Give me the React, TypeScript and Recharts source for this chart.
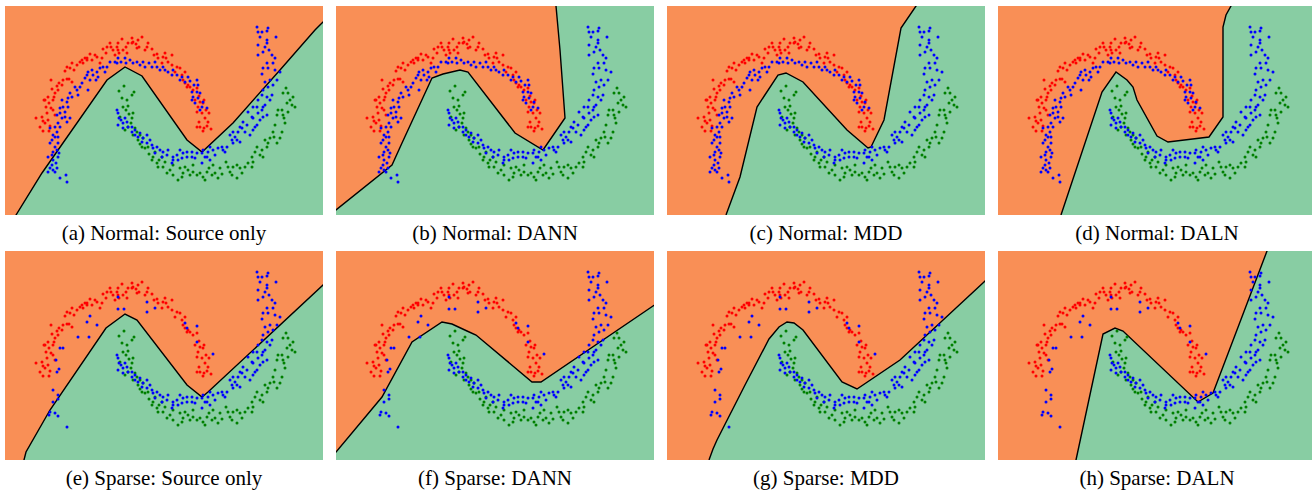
import React from 'react';
import { ComposedChart, Area, Scatter, XAxis, YAxis } from 'recharts';

type P = [number, number];

// Source domain, class 0 (upper moon)
const RED: P[] = [
  [31,97],[37,98],[38,94],[40,92],[38,84],[44,84],[45,89],[41,108],[46,107],[44,112],
  [48,115],[43,118],[50,122],[47,126],[53,125],[54,132],[46,135],[58,135],[64,136],[67,133],
  [60,144],[65,147],[67,152],[69,145],[75,153],[77,155],[80,157],[85,161],[90,160],[87,155],
  [95,152],[97,157],[98,166],[102,168],[105,172],[108,165],[110,160],[112,168],[114,162],[117,176],
  [121,168],[122,162],[118,165],[123,172],[128,173],[131,171],[133,175],[137,178],[134,168],[140,165],
  [143,172],[147,166],[149,160],[152,161],[157,152],[158,158],[160,162],[163,153],[167,160],[167,150],
  [170,143],[175,147],[177,140],[178,135],[180,132],[183,130],[185,128],[188,125],[190,115],[194,119],
  [195,113],[198,112],[193,108],[197,102],[201,105],[204,102],[194,93],[195,88],[199,87],[202,89],
  [206,86],[198,84],[192,88],[50,100],[39,115],[62,148],[82,155],[127,172],[113,172],[78,152],
  [42,102],[48,105],[40,115],[49,118],[52,129],[57,130],[62,136],[72,150],[82,157],[92,158],
  [101,162],[106,168],[113,165],[127,177],[132,167],[142,168],[153,157],[161,157],[172,148],[180,143],
  [182,128],[192,127],[199,115],[192,103],[200,97],[203,93],[43,95],[35,88],
];

// Source domain, class 1 (lower moon)
const GREEN: P[] = [
  [119,129],[129,123],[114,124],[117,117],[122,115],[123,109],[121,105],[128,102],[124,101],[115,98],
  [126,92],[123,88],[130,87],[132,83],[128,80],[133,75],[135,71],[140,67],[138,77],[144,61],
  [148,58],[150,63],[154,55],[157,58],[152,52],[160,53],[162,42],[168,40],[173,35],[175,47],
  [178,42],[180,48],[183,45],[188,43],[192,40],[195,42],[198,38],[202,43],[204,47],[208,50],
  [210,42],[213,37],[217,41],[221,53],[223,48],[227,40],[232,37],[232,50],[235,47],[240,48],
  [243,52],[247,58],[250,63],[252,68],[255,60],[258,58],[260,75],[263,72],[265,77],[268,83],
  [272,72],[275,77],[270,90],[272,100],[277,105],[279,97],[280,92],[273,105],[282,112],[285,115],
  [288,118],[290,108],[278,122],[281,127],[153,48],[168,50],[247,48],[225,43],[188,50],[137,68],
  [127,120],[118,108],[127,97],[120,85],[135,80],[143,68],[147,55],[158,48],[165,45],[177,38],
  [185,40],[200,35],[207,40],[215,47],[228,48],[237,42],[248,53],[257,65],[262,68],[269,78],
  [277,83],[278,100],[283,103],[287,110],[283,122],
];

// Target domain points shared by both settings (right arm + lower arc)
const BLUE_COMMON: P[] = [
  [252,188],[257,183],[262,184],[263,187],[253,183],[271,178],[262,175],[262,172],[253,170],[264,165],
  [258,163],[253,160],[267,160],[270,157],[262,152],[263,147],[270,145],[275,143],[257,141],[265,135],
  [260,133],[272,135],[263,128],[258,125],[267,120],[262,118],[253,115],[265,115],[260,110],[258,108],
  [253,102],[262,100],[255,95],[248,97],[243,103],[247,98],[238,93],[242,90],[235,88],[233,83],
  [228,83],[225,80],[230,78],[227,75],[232,75],[235,73],[222,68],[217,68],[213,67],[208,65],
  [205,68],[203,63],[198,65],[197,62],[192,62],[187,63],[182,58],[178,62],[177,57],[172,60],
  [168,58],[167,52],[162,60],[158,63],[155,65],[152,68],[150,62],[147,70],[145,75],[142,80],
  [138,77],[137,73],[133,78],[130,80],[130,85],[127,88],[123,88],[122,93],[118,92],[113,90],
  [114,97],[113,102],[112,105],[120,97],[197,52],[205,55],[187,58],[168,55],[248,108],[257,105],
  [240,83],[248,85],[252,90],[245,80],[218,65],[200,58],[175,65],
  [255,178],[260,168],[268,152],[258,147],[268,130],[257,120],[252,108],[258,98],[250,88],[237,87],
  [228,72],[220,63],[210,60],[202,58],[190,57],[182,63],[173,55],[163,65],[157,58],[148,67],
  [142,72],[135,82],[127,83],[118,87],[116,95],
];

// Target points on the upper arc, normal setting
const BLUE_ARC_NORMAL: P[] = [
  [113,157],[110,153],[112,152],[121,152],[120,157],[128,152],[132,153],[138,153],[140,148],[144,152],
  [150,153],[152,148],[155,145],[160,145],[163,143],[168,145],[172,140],[177,138],[180,133],[183,138],
  [185,134],[189,130],[192,135],[193,130],[192,123],[188,118],[193,117],[187,115],[190,112],[197,108],
  [202,107],[195,105],[105,153],[102,148],[95,147],[92,143],[100,143],[87,145],[88,140],[82,140],
  [85,135],[91,135],[80,137],[75,128],[72,125],[83,125],[70,128],[67,118],[63,117],[62,113],
  [57,115],[58,108],[60,103],[55,107],[60,98],[65,97],[57,97],[52,100],[53,92],[55,88],
  [50,88],[45,87],[48,80],[50,78],[53,78],[45,72],[50,68],[52,65],[54,62],[47,60],
  [43,58],[53,58],[48,55],[45,47],[48,45],[52,47],[50,43],[43,43],[55,37],[62,33],[61,40],
  [116,153],[125,155],[135,150],[147,148],[158,148],[167,140],[175,135],[187,123],[195,122],[198,113],
  [98,148],[93,138],[83,143],[77,132],[73,120],[65,122],[63,108],[55,102],[62,93],[52,83],
  [47,75],[53,72],[48,63],[51,52],[47,50],
];

// Target points on the upper arc, sparse setting
const BLUE_ARC_SPARSE: P[] = [
  [113,163],[113,151],[119,151],[142,158],[150,152],[142,148],[180,137],[182,132],[192,134],[192,118],
  [208,106],[92,135],[82,138],[85,144],[73,123],[84,123],[55,112],[58,112],[51,100],[54,91],
  [52,88],[48,70],[53,65],[48,58],[53,61],[44,45],[50,47],[53,44],[62,33],[45,48],
];

// Decision boundaries (green region lies below each curve)
const BOUNDARY_A: P[] = [[8,-5],[11,0],[37,42],[102,135],[120,148],[137,139],[182,75],[197,63],[228,92],[275,145],[310,185],[318,193],[330,206]];
const BOUNDARY_B: P[] = [[-10,-3],[0,5],[56,50],[66,72],[96,137],[107,141],[124,145],[132,143],[179,82],[207,65],[229,97],[224,165],[220,209],[219,225],[330,225]];
const BOUNDARY_C: P[] = [[57,-5],[59,0],[73,38],[90,108],[111,140],[119,142],[136,133],[180,85],[201,67],[204,68],[217,95],[234,187],[249,209],[257,220],[330,220]];
const BOUNDARY_D: P[] = [[61,-5],[63,0],[104,123],[118,143],[129,135],[135,128],[139,115],[159,79],[170,73],[211,78],[225,98],[225,132],[225,188],[228,200],[233,209],[238,220],[330,220]];
const BOUNDARY_E: P[] = [[18,-5],[19,0],[21,8],[45,50],[101,132],[120,146],[132,140],[182,75],[197,63],[203,68],[318,175],[330,186]];
const BOUNDARY_F: P[] = [[-10,-4],[0,8],[46,63],[76,118],[106,138],[116,136],[131,129],[140,125],[196,78],[205,78],[317,154],[330,163]];
const BOUNDARY_G: P[] = [[40,-5],[42,0],[46,11],[50,20],[78,75],[102,121],[112,133],[120,138],[127,137],[136,130],[175,78],[190,71],[233,100],[317,178],[330,190]];
const BOUNDARY_H: P[] = [[77,-5],[78,0],[105,126],[117,132],[125,129],[200,58],[215,67],[269,209],[273,220],[330,220]];

const CAPTIONS = [
  '(a) Normal: Source only', '(b) Normal: DANN', '(c) Normal: MDD', '(d) Normal: DALN',
  '(e) Sparse: Source only', '(f) Sparse: DANN', '(g) Sparse: MDD', '(h) Sparse: DALN',
];

const BOUNDARIES = [BOUNDARY_A, BOUNDARY_B, BOUNDARY_C, BOUNDARY_D, BOUNDARY_E, BOUNDARY_F, BOUNDARY_G, BOUNDARY_H];

const ORANGE = '#F98F56';
const MINT = '#88CDA3';

const toPts = (arr: P[]) => arr.map(([x, y]) => ({ x, y }));

const dot = (color: string) => (props: any) => (
  <circle cx={props.cx} cy={props.cy} r={1.5} fill={color} />
);

const PANEL_W = 318;
const PANEL_H = 209;
const LEFTS = [5, 336, 667, 998];
const TOPS = [6, 251];

function Panel({ idx }: { idx: number }) {
  const sparse = idx >= 4;
  const blue = toPts(BLUE_COMMON.concat(sparse ? BLUE_ARC_SPARSE : BLUE_ARC_NORMAL));
  const left = LEFTS[idx % 4];
  const top = TOPS[Math.floor(idx / 4)];
  return (
    <>
      <div style={{ position: 'absolute', left, top, width: PANEL_W, height: PANEL_H, background: ORANGE, overflow: 'hidden' }}>
        <ComposedChart width={PANEL_W} height={PANEL_H} data={toPts(BOUNDARIES[idx])} margin={{ top: 0, right: 0, bottom: 0, left: 0 }}>
          <XAxis type="number" dataKey="x" domain={[0, 318]} allowDataOverflow hide />
          <YAxis type="number" dataKey="y" domain={[0, 209]} allowDataOverflow hide />
          <Area type="linear" dataKey="y" baseValue={-30} stroke="#000" strokeWidth={1.4} fill={MINT} fillOpacity={1} isAnimationActive={false} dot={false} activeDot={false} />
          <Scatter data={toPts(RED)} fill="#ff0000" shape={dot('#ff0000')} isAnimationActive={false} />
          <Scatter data={toPts(GREEN)} fill="#008000" shape={dot('#008000')} isAnimationActive={false} />
          <Scatter data={blue} fill="#0000ff" shape={dot('#0000ff')} isAnimationActive={false} />
        </ComposedChart>
      </div>
      <div style={{ position: 'absolute', left: left - 30, width: PANEL_W + 60, top: top + 217, textAlign: 'center', fontFamily: '"Liberation Serif", "Times New Roman", serif', fontSize: 21, lineHeight: '21px', color: '#000', whiteSpace: 'nowrap' }}>
        {CAPTIONS[idx]}
      </div>
    </>
  );
}

export default function App() {
  return (
    <div style={{ position: 'absolute', left: 0, top: 0, width: 1312, height: 493, background: '#fff', overflow: 'hidden' }}>
      {CAPTIONS.map((_, i) => <Panel key={i} idx={i} />)}
    </div>
  );
}
